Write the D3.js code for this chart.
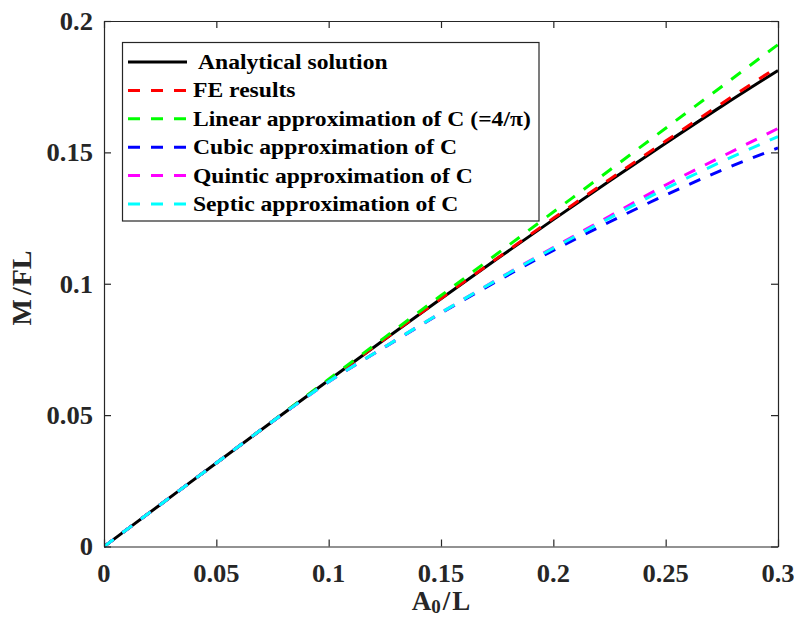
<!DOCTYPE html>
<html>
<head>
<meta charset="utf-8">
<script src="https://cdn.jsdelivr.net/npm/d3@7"></script>
<style>
  html, body { margin: 0; padding: 0; background: #fff; }
  svg { display: block; }
  text { font-family: "Liberation Serif", "Times New Roman", serif; font-weight: bold; fill: #262626; }
</style>
</head>
<body>
<svg id="chart" width="794" height="618"></svg>
<script>
// Normalised amplitude A0/L
const xValues = [0, 0.025, 0.05, 0.075, 0.1, 0.125, 0.15, 0.175, 0.2, 0.225, 0.25, 0.275, 0.3];

// Normalised moment M/FL for each curve
const analytical = [0, 0.0159, 0.0318, 0.0476, 0.0633, 0.0789, 0.0943, 0.1095, 0.1244, 0.1391, 0.1535, 0.1676, 0.1812];
const feResults  = [0, 0.0159, 0.0318, 0.0476, 0.0633, 0.0790, 0.0944, 0.1097, 0.1249, 0.1397, 0.1543, 0.1686, 0.1826];
const linearC    = [0, 0.0159, 0.0318, 0.0477, 0.0637, 0.0796, 0.0955, 0.1114, 0.1273, 0.1432, 0.1592, 0.1751, 0.1910];
const cubicC     = [0, 0.0159, 0.0318, 0.0476, 0.0627, 0.0759, 0.0888, 0.1010, 0.1127, 0.1235, 0.1338, 0.1432, 0.1517];
const quinticC   = [0, 0.0159, 0.0318, 0.0476, 0.0627, 0.0760, 0.0890, 0.1016, 0.1138, 0.1257, 0.1376, 0.1484, 0.1591];
const septicC    = [0, 0.0159, 0.0318, 0.0476, 0.0627, 0.0760, 0.0890, 0.1015, 0.1135, 0.1250, 0.1362, 0.1465, 0.1560];

const seriesNames  = ["Analytical solution", "FE results", "Linear approximation of C (=4/\u03c0)",
                      "Cubic approximation of C", "Quintic approximation of C", "Septic approximation of C"];
const seriesValues = [analytical, feResults, linearC, cubicC, quinticC, septicC];
const seriesColors = ["#000000", "#ff0000", "#00ff00", "#0000ff", "#ff00ff", "#00ffff"];
const seriesDashed = [false, true, true, true, true, true];

const xTicks = [0, 0.05, 0.1, 0.15, 0.2, 0.25, 0.3];
const xTickLabels = ["0", "0.05", "0.1", "0.15", "0.2", "0.25", "0.3"];
const yTicks = [0, 0.05, 0.1, 0.15, 0.2];
const yTickLabels = ["0", "0.05", "0.1", "0.15", "0.2"];

const svg = d3.select("#chart");
const plot = { left: 104, right: 778, top: 21, bottom: 546.5 };
const axisColor = "#262626";

const x = d3.scaleLinear().domain([0, 0.3]).range([plot.left, plot.right]);
const y = d3.scaleLinear().domain([0, 0.2]).range([plot.bottom, plot.top]);

// horizontally stretched serif text, keeping the anchor point fixed
function stretchText(sel, sx) {
  sel.attr("transform", function () {
    const tx = +d3.select(this).attr("x"), ty = +d3.select(this).attr("y");
    return `translate(${tx},${ty}) scale(${sx},1) translate(${-tx},${-ty})`;
  });
}

// curves
svg.append("defs").append("clipPath").attr("id", "plotClip")
  .append("rect").attr("x", plot.left).attr("y", plot.top - 2)
  .attr("width", plot.right - plot.left + 2).attr("height", plot.bottom - plot.top + 4);

const line = d3.line().x((d, i) => x(xValues[i])).y(d => y(d)).curve(d3.curveMonotoneX);
const curves = svg.append("g").attr("clip-path", "url(#plotClip)");
seriesValues.forEach((vals, k) => {
  curves.append("path")
    .datum(vals)
    .attr("d", line)
    .attr("fill", "none")
    .attr("stroke", seriesColors[k])
    .attr("stroke-width", 3)
    .attr("stroke-dasharray", seriesDashed[k] ? "12,11" : null);
});

// axes box with inward ticks on all four sides
const tickLen = 7;
const axes = svg.append("g");
const axBottom = d3.axisBottom(x).tickValues(xTicks).tickSizeInner(-tickLen).tickSizeOuter(0).tickFormat("");
const axTop = d3.axisTop(x).tickValues(xTicks).tickSizeInner(-tickLen).tickSizeOuter(0).tickFormat("");
const axLeft = d3.axisLeft(y).tickValues(yTicks).tickSizeInner(-tickLen).tickSizeOuter(0).tickFormat("");
const axRight = d3.axisRight(y).tickValues(yTicks).tickSizeInner(-tickLen).tickSizeOuter(0).tickFormat("");
axes.append("g").attr("transform", `translate(0,${plot.bottom})`).call(axBottom);
axes.append("g").attr("transform", `translate(0,${plot.top})`).call(axTop);
axes.append("g").attr("transform", `translate(${plot.left},0)`).call(axLeft);
axes.append("g").attr("transform", `translate(${plot.right},0)`).call(axRight);
axes.selectAll(".domain, line").attr("stroke", axisColor).attr("stroke-width", 1.2);

// tick labels
svg.append("g").selectAll("text").data(xTicks).join("text")
  .attr("x", d => x(d)).attr("y", 582)
  .attr("text-anchor", "middle").attr("font-size", 26)
  .text((d, i) => xTickLabels[i])
  .call(stretchText, 1.02);
svg.append("g").selectAll("text").data(yTicks).join("text")
  .attr("x", 93).attr("y", d => y(d) + 9)
  .attr("text-anchor", "end").attr("font-size", 26)
  .text((d, i) => yTickLabels[i])
  .call(stretchText, 1.02);

// axis titles
const xl = svg.append("text").attr("x", 441).attr("y", 610).attr("text-anchor", "middle").attr("font-size", 27);
xl.append("tspan").text("A");
xl.append("tspan").attr("font-size", 19).attr("dy", 3).text("0");
xl.append("tspan").attr("dy", -3).attr("dx", 2).text("/");
xl.append("tspan").attr("dx", 2).text("L");

const yl = svg.append("text").attr("transform", "translate(31,288) rotate(-90)")
  .attr("text-anchor", "middle").attr("font-size", 28);
yl.append("tspan").text("M");
yl.append("tspan").attr("dx", 4).text("/");
yl.append("tspan").attr("dx", 1).text("FL");

// legend
const lg = svg.append("g");
lg.append("rect").attr("x", 122.5).attr("y", 42.5).attr("width", 416.5).attr("height", 178.5)
  .attr("fill", "#fff").attr("stroke", axisColor).attr("stroke-width", 1.2);
seriesNames.forEach((name, k) => {
  const cy = 62 + k * 28.4;
  lg.append("line").attr("x1", 128).attr("x2", 187).attr("y1", cy).attr("y2", cy)
    .attr("stroke", seriesColors[k]).attr("stroke-width", 3)
    .attr("stroke-dasharray", seriesDashed[k] ? "12,11" : null);
  lg.append("text").attr("x", k === 0 ? 198 : 193).attr("y", cy + 7)
    .attr("font-size", 21).style("fill", "#000")
    .text(name)
    .call(stretchText, 1.125);
});
</script>
</body>
</html>
